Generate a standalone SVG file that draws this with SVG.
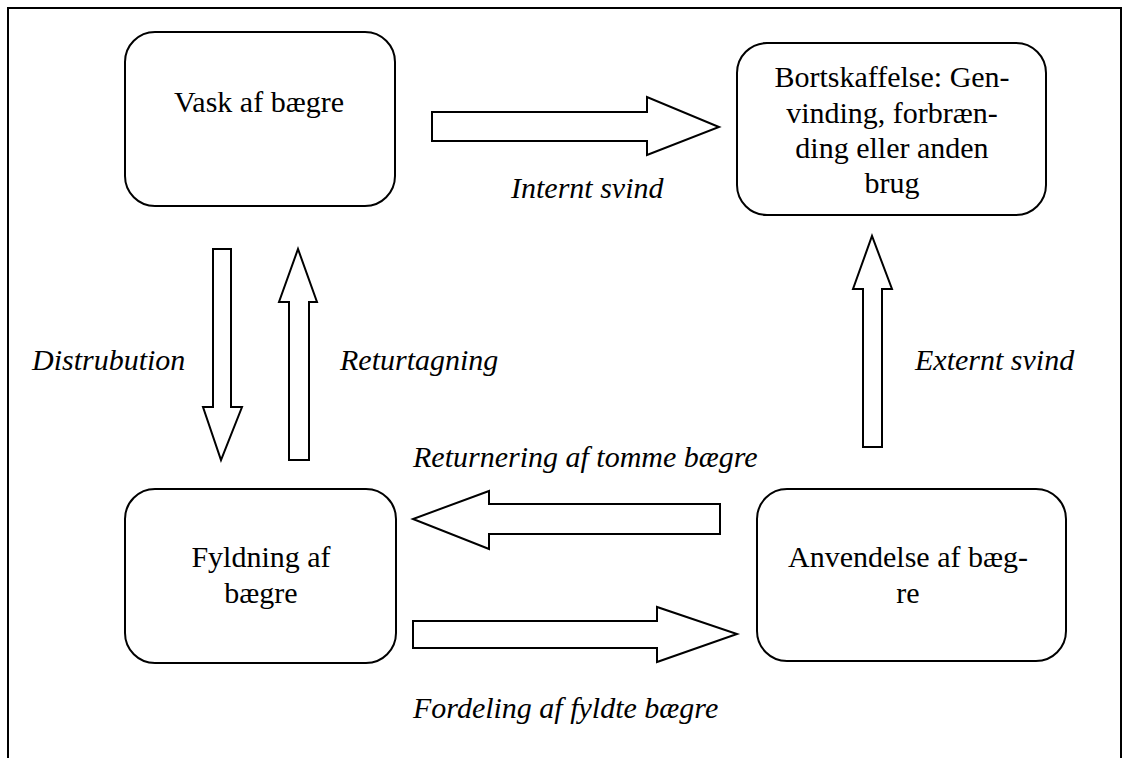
<svg xmlns="http://www.w3.org/2000/svg" width="1130" height="758" viewBox="0 0 1130 758">
<style>
.box{fill:#fff;stroke:#000;stroke-width:2}
.arr{fill:#fff;stroke:#000;stroke-width:2;stroke-linejoin:miter}
.t{font-family:"Liberation Serif","Times New Roman",serif;font-size:30px;fill:#000;text-anchor:middle}
.l{font-family:"Liberation Serif","Times New Roman",serif;font-size:30px;font-style:italic;fill:#000}
</style>
<rect width="1130" height="758" fill="#fff"/>
<path d="M8,758 V8 H1121 V758" fill="none" stroke="#000" stroke-width="2"/>
<g id="vask">
<rect class="box" x="125" y="32" width="270" height="174" rx="30" ry="30"/>
<text class="t" x="259" y="112">Vask af bægre</text>
</g>
<g id="bortskaffelse">
<rect class="box" x="737" y="43" width="309" height="172" rx="30" ry="30"/>
<text class="t" x="892" y="87">Bortskaffelse: Gen-</text>
<text class="t" x="892" y="123">vinding, forbræn-</text>
<text class="t" x="892" y="158">ding eller anden</text>
<text class="t" x="892" y="193">brug</text>
</g>
<g id="fyldning">
<rect class="box" x="125" y="489" width="271" height="174" rx="30" ry="30"/>
<text class="t" x="261" y="567">Fyldning af</text>
<text class="t" x="261" y="603">bægre</text>
</g>
<g id="anvendelse">
<rect class="box" x="757" y="489" width="309" height="172" rx="30" ry="30"/>
<text class="t" x="908" y="567">Anvendelse af bæg-</text>
<text class="t" x="908" y="603">re</text>
</g>
<g id="connectors">
<polygon class="arr" points="432,112 647,112 647,97 719,127 647,155 647,141 432,141"/>
<polygon class="arr" points="213,249 231,249 231,407 242,407 221,460 203,407 213,407"/>
<polygon class="arr" points="289,460 309,460 309,302 317,302 298,249 279,302 289,302"/>
<polygon class="arr" points="863,447 882,447 882,289 892,289 872,236 853,289 863,289"/>
<polygon class="arr" points="720,504 489,504 489,491 413,519 489,549 489,534 720,534"/>
<polygon class="arr" points="413,621 657,621 657,607 737,634 657,662 657,648 413,648"/>
</g>
<g id="labels">
<text class="l" x="511" y="198">Internt svind</text>
<text class="l" x="32" y="370">Distrubution</text>
<text class="l" x="340" y="370">Returtagning</text>
<text class="l" x="915" y="370">Externt svind</text>
<text class="l" x="413" y="467">Returnering af tomme bægre</text>
<text class="l" x="413" y="718">Fordeling af fyldte bægre</text>
</g>
</svg>
